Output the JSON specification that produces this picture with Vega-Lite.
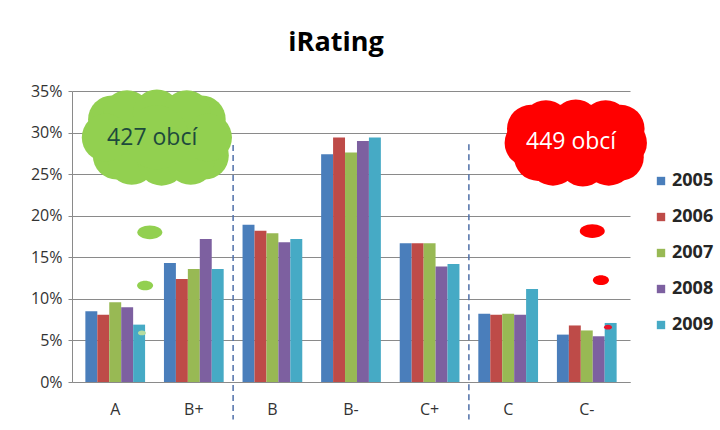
{
  "$schema": "https://vega.github.io/schema/vega-lite/v6.json",
  "width": 558,
  "height": 291,
  "autosize": {"type": "none"},
  "padding": {"left": 72, "top": 91, "right": 90, "bottom": 48},
  "background": "white",
  "title": {"text": "iRating", "font": "Open Sans", "fontSize": 27, "fontWeight": "bold", "color": "#000000", "anchor": "middle", "dx": -15, "offset": 26},
  "config": {
    "view": {"stroke": null},
    "axis": {"labelFont": "Open Sans", "labelColor": "#333333", "domainColor": "#8a8a8a", "gridColor": "#8a8a8a", "tickColor": "#8a8a8a"}
  },
  "datasets": {
    "bars": [
      {"category": "A", "year": "2005", "share": 8.5},
      {"category": "A", "year": "2006", "share": 8.1},
      {"category": "A", "year": "2007", "share": 9.6},
      {"category": "A", "year": "2008", "share": 9.0},
      {"category": "A", "year": "2009", "share": 6.9},
      {"category": "B+", "year": "2005", "share": 14.3},
      {"category": "B+", "year": "2006", "share": 12.4},
      {"category": "B+", "year": "2007", "share": 13.6},
      {"category": "B+", "year": "2008", "share": 17.2},
      {"category": "B+", "year": "2009", "share": 13.6},
      {"category": "B", "year": "2005", "share": 18.9},
      {"category": "B", "year": "2006", "share": 18.2},
      {"category": "B", "year": "2007", "share": 17.9},
      {"category": "B", "year": "2008", "share": 16.8},
      {"category": "B", "year": "2009", "share": 17.2},
      {"category": "B-", "year": "2005", "share": 27.4},
      {"category": "B-", "year": "2006", "share": 29.4},
      {"category": "B-", "year": "2007", "share": 27.6},
      {"category": "B-", "year": "2008", "share": 29.0},
      {"category": "B-", "year": "2009", "share": 29.4},
      {"category": "C+", "year": "2005", "share": 16.7},
      {"category": "C+", "year": "2006", "share": 16.7},
      {"category": "C+", "year": "2007", "share": 16.7},
      {"category": "C+", "year": "2008", "share": 13.9},
      {"category": "C+", "year": "2009", "share": 14.2},
      {"category": "C", "year": "2005", "share": 8.2},
      {"category": "C", "year": "2006", "share": 8.1},
      {"category": "C", "year": "2007", "share": 8.2},
      {"category": "C", "year": "2008", "share": 8.1},
      {"category": "C", "year": "2009", "share": 11.2},
      {"category": "C-", "year": "2005", "share": 5.7},
      {"category": "C-", "year": "2006", "share": 6.8},
      {"category": "C-", "year": "2007", "share": 6.2},
      {"category": "C-", "year": "2008", "share": 5.5},
      {"category": "C-", "year": "2009", "share": 7.1}
    ],
    "dividers": [
      {"px": 1.5, "py": 28.5, "py2": -4.5},
      {"px": 4.5, "py": 28.6, "py2": -4.5}
    ],
    "clouds": [
      {"cloud": "green", "part": "puff", "px": -0.04, "py": 31.57},
      {"cloud": "green", "part": "puff", "px": 0.34, "py": 31.57},
      {"cloud": "green", "part": "puff", "px": 0.72, "py": 31.57},
      {"cloud": "green", "part": "puff", "px": 1.10, "py": 31.57},
      {"cloud": "green", "part": "puff", "px": 0.15, "py": 32.2},
      {"cloud": "green", "part": "puff", "px": 0.53, "py": 32.3},
      {"cloud": "green", "part": "puff", "px": 0.91, "py": 32.2},
      {"cloud": "green", "part": "puff", "px": 0.02, "py": 27.23},
      {"cloud": "green", "part": "puff", "px": 0.40, "py": 27.23},
      {"cloud": "green", "part": "puff", "px": 0.78, "py": 27.23},
      {"cloud": "green", "part": "puff", "px": 1.14, "py": 27.23},
      {"cloud": "green", "part": "puff", "px": 0.21, "py": 26.6},
      {"cloud": "green", "part": "puff", "px": 0.59, "py": 26.5},
      {"cloud": "green", "part": "puff", "px": 0.96, "py": 26.6},
      {"cloud": "green", "part": "puff", "px": -0.12, "py": 29.4},
      {"cloud": "green", "part": "puff", "px": 1.18, "py": 29.4},
      {"cloud": "green", "part": "core", "px": 0.53, "py": 29.4},
      {"cloud": "green", "part": "L", "px": 0.44, "py": 18.0},
      {"cloud": "green", "part": "M", "px": 0.38, "py": 11.6},
      {"cloud": "green", "part": "S", "px": 0.34, "py": 5.9},
      {"cloud": "red", "part": "puff", "px": 5.29, "py": 30.45},
      {"cloud": "red", "part": "puff", "px": 5.67, "py": 30.45},
      {"cloud": "red", "part": "puff", "px": 6.05, "py": 30.45},
      {"cloud": "red", "part": "puff", "px": 6.43, "py": 30.45},
      {"cloud": "red", "part": "puff", "px": 5.48, "py": 31.0},
      {"cloud": "red", "part": "puff", "px": 5.86, "py": 31.1},
      {"cloud": "red", "part": "puff", "px": 6.24, "py": 31.0},
      {"cloud": "red", "part": "puff", "px": 5.38, "py": 27.07},
      {"cloud": "red", "part": "puff", "px": 5.76, "py": 27.07},
      {"cloud": "red", "part": "puff", "px": 6.14, "py": 27.07},
      {"cloud": "red", "part": "puff", "px": 6.42, "py": 27.07},
      {"cloud": "red", "part": "puff", "px": 5.57, "py": 26.5},
      {"cloud": "red", "part": "puff", "px": 5.95, "py": 26.4},
      {"cloud": "red", "part": "puff", "px": 6.28, "py": 26.5},
      {"cloud": "red", "part": "puff", "px": 5.26, "py": 28.76},
      {"cloud": "red", "part": "puff", "px": 6.46, "py": 28.76},
      {"cloud": "red", "part": "core", "px": 5.86, "py": 28.76},
      {"cloud": "red", "part": "L", "px": 6.07, "py": 18.16},
      {"cloud": "red", "part": "M", "px": 6.18, "py": 12.25},
      {"cloud": "red", "part": "S", "px": 6.27, "py": 6.6}
    ],
    "labels": [
      {"cloud": "green", "text": "427 obcí", "px": 0.47, "py": 29.36},
      {"cloud": "red", "text": "449 obcí", "px": 5.80, "py": 28.86}
    ]
  },
  "resolve": {"scale": {"x": "independent"}},
  "layer": [
    {
      "data": {"name": "bars"},
      "mark": {"type": "bar"},
      "encoding": {
        "x": {
          "field": "category", "type": "nominal",
          "sort": ["A", "B+", "B", "B-", "C+", "C", "C-"],
          "scale": {"paddingInner": 0.24, "paddingOuter": 0.17},
          "axis": {"title": null, "labelAngle": 0, "labelFontSize": 16, "labelPadding": 19, "ticks": false, "domainColor": "#8a8a8a"}
        },
        "xOffset": {"field": "year", "type": "nominal", "scale": {"paddingInner": 0, "paddingOuter": 0}},
        "y": {
          "field": "share", "type": "quantitative",
          "scale": {"domain": [0, 35], "nice": false, "zero": true},
          "axis": {"title": null, "values": [0, 5, 10, 15, 20, 25, 30, 35], "labelExpr": "datum.value + '%'", "labelFontSize": 16, "tickSize": 4, "labelPadding": 6, "grid": true, "gridWidth": 1.2}
        },
        "color": {
          "field": "year", "type": "nominal",
          "scale": {"domain": ["2005", "2006", "2007", "2008", "2009"], "range": ["#4A7EBB", "#BE4B48", "#98B954", "#7D60A0", "#46AAC5"]},
          "legend": {"title": null, "orient": "none", "legendX": 580, "legendY": 81, "symbolType": "square", "symbolSize": 70, "symbolStrokeWidth": 0, "labelFont": "Open Sans", "labelFontSize": 18, "labelFontWeight": "bold", "labelColor": "#262626", "rowPadding": 18, "labelOffset": 2}
        }
      }
    },
    {
      "data": {"name": "dividers"},
      "mark": {"type": "rule", "color": "#4F6FA8", "strokeWidth": 1.5, "strokeDash": [6, 4]},
      "encoding": {
        "x": {"field": "px", "type": "quantitative", "scale": {"domain": [-0.55, 6.55], "nice": false, "zero": false}, "axis": null},
        "y": {"field": "py", "type": "quantitative"},
        "y2": {"field": "py2"}
      }
    },
    {
      "data": {"name": "clouds"},
      "transform": [{"filter": "datum.part == 'puff'"}],
      "mark": {"type": "point", "filled": true, "opacity": 1, "strokeWidth": 0, "shape": "circle", "size": 2304},
      "encoding": {
        "x": {"field": "px", "type": "quantitative", "scale": {"domain": [-0.55, 6.55], "nice": false, "zero": false}, "axis": null},
        "y": {"field": "py", "type": "quantitative"},
        "color": {"condition": {"test": "datum.cloud == 'red'", "value": "#FF0000"}, "value": "#92D050"}
      }
    },
    {
      "data": {"name": "clouds"},
      "transform": [{"filter": "datum.part == 'core'"}],
      "mark": {"type": "point", "filled": true, "opacity": 1, "strokeWidth": 0, "shape": "circle", "size": 4096},
      "encoding": {
        "x": {"field": "px", "type": "quantitative", "scale": {"domain": [-0.55, 6.55], "nice": false, "zero": false}, "axis": null},
        "y": {"field": "py", "type": "quantitative"},
        "color": {"condition": {"test": "datum.cloud == 'red'", "value": "#FF0000"}, "value": "#92D050"}
      }
    },
    {
      "data": {"name": "clouds"},
      "transform": [{"filter": "datum.part == 'L'"}],
      "mark": {"type": "point", "filled": true, "opacity": 1, "strokeWidth": 0, "shape": "M-1,0A1,0.55,0,1,0,1,0A1,0.55,0,1,0,-1,0Z", "size": 625},
      "encoding": {
        "x": {"field": "px", "type": "quantitative", "scale": {"domain": [-0.55, 6.55], "nice": false, "zero": false}, "axis": null},
        "y": {"field": "py", "type": "quantitative"},
        "color": {"condition": {"test": "datum.cloud == 'red'", "value": "#FF0000"}, "value": "#92D050"}
      }
    },
    {
      "data": {"name": "clouds"},
      "transform": [{"filter": "datum.part == 'M'"}],
      "mark": {"type": "point", "filled": true, "opacity": 1, "strokeWidth": 0, "shape": "M-1,0A1,0.6,0,1,0,1,0A1,0.6,0,1,0,-1,0Z", "size": 256},
      "encoding": {
        "x": {"field": "px", "type": "quantitative", "scale": {"domain": [-0.55, 6.55], "nice": false, "zero": false}, "axis": null},
        "y": {"field": "py", "type": "quantitative"},
        "color": {"condition": {"test": "datum.cloud == 'red'", "value": "#FF0000"}, "value": "#92D050"}
      }
    },
    {
      "data": {"name": "clouds"},
      "transform": [{"filter": "datum.part == 'S'"}],
      "mark": {"type": "point", "filled": true, "opacity": 1, "strokeWidth": 0, "shape": "M-1,0A1,0.6,0,1,0,1,0A1,0.6,0,1,0,-1,0Z", "size": 64},
      "encoding": {
        "x": {"field": "px", "type": "quantitative", "scale": {"domain": [-0.55, 6.55], "nice": false, "zero": false}, "axis": null},
        "y": {"field": "py", "type": "quantitative"},
        "color": {"condition": {"test": "datum.cloud == 'red'", "value": "#E8142A"}, "value": "#B5DCA0"}
      }
    },
    {
      "data": {"name": "labels"},
      "mark": {"type": "text", "font": "Open Sans", "fontSize": 23, "align": "center", "baseline": "middle"},
      "encoding": {
        "x": {"field": "px", "type": "quantitative", "scale": {"domain": [-0.55, 6.55], "nice": false, "zero": false}, "axis": null},
        "y": {"field": "py", "type": "quantitative"},
        "text": {"field": "text"},
        "color": {"condition": {"test": "datum.cloud == 'red'", "value": "#FFFFFF"}, "value": "#1D4A3C"}
      }
    }
  ]
}
